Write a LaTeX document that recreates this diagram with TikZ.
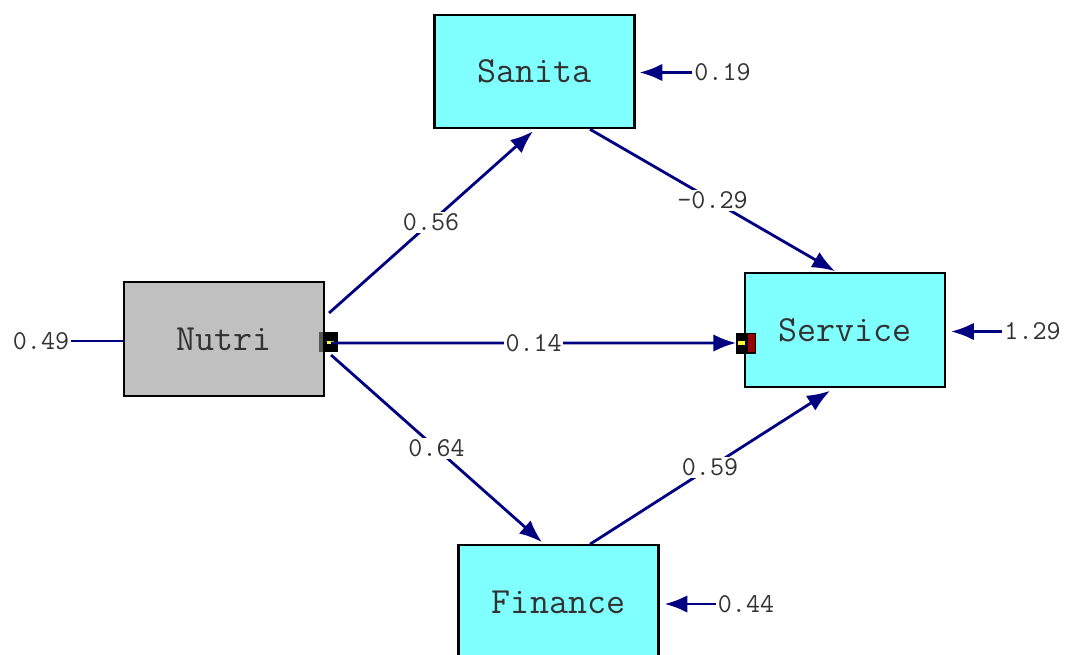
\documentclass[tikz,border=0pt]{standalone}
\usepackage{fontspec}
\usetikzlibrary{arrows.meta,calc}
\definecolor{navy}{RGB}{0,0,128}
\definecolor{obsfill}{RGB}{128,255,255}
\definecolor{exofill}{RGB}{192,192,192}
\definecolor{txtgray}{RGB}{50,50,50}
\tikzset{
  var/.style={draw, line width=1.2pt, minimum width=4cm, minimum height=2.27cm,
    inner sep=0pt, text=txtgray, font=\ttfamily\fontsize{21}{23}\selectfont},
  path/.style={draw=navy, line width=1.6pt, -{Latex[length=13pt,width=10pt]}},
  coef/.style={fill=white, inner sep=1pt, text=txtgray, font=\ttfamily\fontsize{15.5}{17}\selectfont},
  err/.style={inner sep=1pt, text=txtgray, font=\ttfamily\fontsize{15.5}{17}\selectfont},
}
\begin{document}
\begin{tikzpicture}
            \useasboundingbox (0,0) rectangle (21.34,-13.08);

            \node[var, fill=exofill] (Nutri) at (4.48,-6.78) {Nutri};
            \node[var, fill=obsfill] (Sanita) at (10.69,-1.43) {Sanita};
            \node[var, fill=obsfill] (Service) at (16.9,-6.6) {Service};
            \node[var, fill=obsfill] (Finance) at (11.17,-12.04) {Finance};

            % markers
            \node[draw=black, fill=black, minimum width=0.36cm, minimum height=0.38cm, inner sep=0pt] (mN) at (6.56,-6.84) {};
            \fill[gray!70!black] (mN.north west) rectangle ($(mN.south west)+(0.09,0)$);
            \fill[yellow!70] ($(mN.center)+(-0.02,-0.03)$) rectangle ($(mN.center)+(0.12,0.03)$);
            \node[draw=black, fill=black, minimum width=0.38cm, minimum height=0.4cm, inner sep=0pt] (mS) at (14.92,-6.86) {};
            \fill[red!60!black] ($(mS.north east)+(-0.16,-0.02)$) rectangle ($(mS.south east)+(-0.02,0.02)$);
            \fill[yellow!80] ($(mS.west)+(0.03,-0.04)$) rectangle ($(mS.west)+(0.18,0.04)$);

            \draw[path] ($(Nutri.east)+(0.08,0.52)$) -- node[coef] (c1) {0.56} ($(Sanita.south)+(-0.03,-0.04)$);
            \draw[path] ($(Sanita.south)+(1.11,0)$) -- node[coef] (c2) {-0.29} ($(Service.north)+(-0.2,0.02)$);
            \draw[path] ($(Nutri.east)+(0.12,-0.08)$) -- node[coef] (c3) {0.14} (mS.west);
            \draw[path] ($(Nutri.east)+(0.12,-0.32)$) -- node[coef] (c4) {0.64} ($(Finance.north)+(-0.33,0.04)$);
            \draw[path] ($(Finance.north)+(0.63,0)$) -- node[coef] (c5) {0.59} ($(Service.south)+(-0.3,-0.06)$);

            % errors
            \node[err] (eS) at (14.45,-1.45) {0.19};
            \node[err] (eV) at (20.65,-6.63) {1.29};
            \node[err] (eF) at (14.92,-12.08) {0.44};
            \node[err] (eN) at (0.82,-6.82) {0.49};

            \draw[path] (eS.west) -- ([xshift=0.08cm]eS.west -| Sanita.east);
            \draw[path] (eV.west) -- ([xshift=0.1cm]eV.west -| Service.east);
            \draw[path] (eF.west) -- ([xshift=0.1cm]eF.west -| Finance.east);
            \draw[navy, line width=1.6pt] (eN.east) -- (eN.east -| Nutri.west);
        \end{tikzpicture}
\end{document}
